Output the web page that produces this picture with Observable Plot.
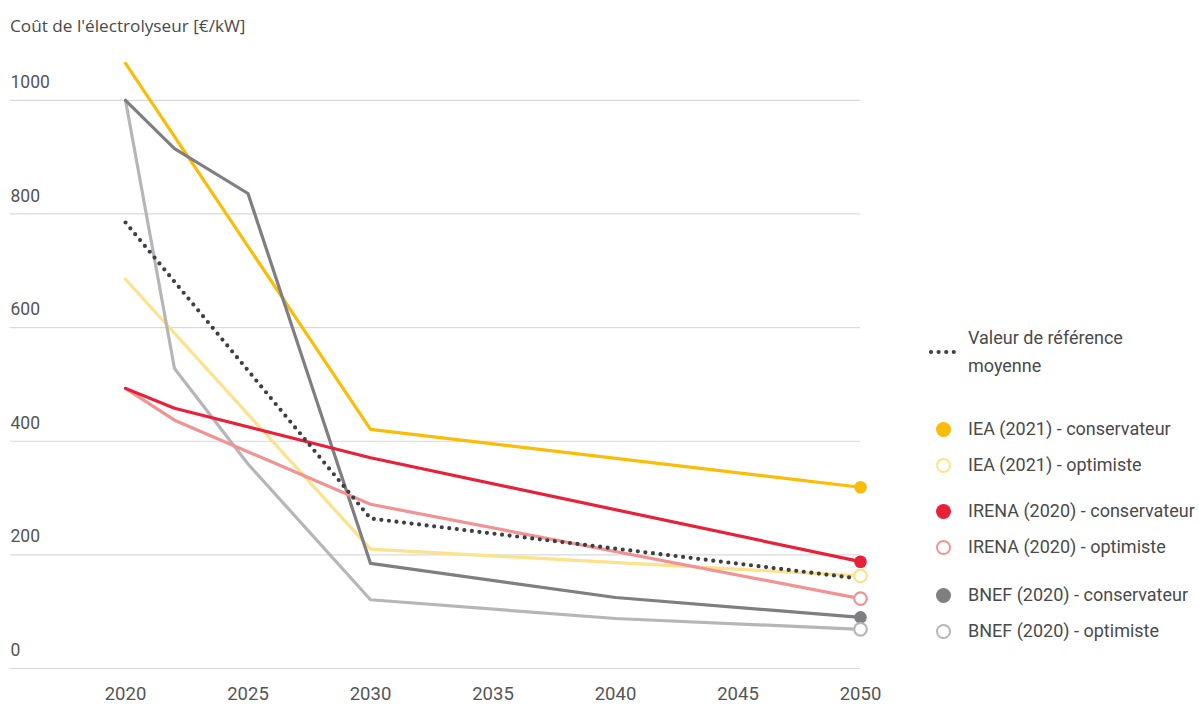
<!DOCTYPE html>
<html>
<head>
<meta charset="utf-8">
<script src="https://cdn.jsdelivr.net/npm/d3@7"></script>
<script src="https://cdn.jsdelivr.net/npm/@observablehq/plot@0.6"></script>
<style>
  html, body { margin: 0; padding: 0; background: #fff; }
  #wrap { position: relative; width: 1199px; height: 704px; }
  #title { position: absolute; left: 10px; top: 14px; font-family: "Open Sans", sans-serif; font-size: 17.2px; color: #4a4a4a; }
  #legend { position: absolute; left: 0; top: 0; font-family: Roboto, sans-serif; font-size: 18px; color: #4a4a4a; }
  .item { position: absolute; white-space: nowrap; }
  .mk { position: absolute; box-sizing: border-box; border-radius: 50%; width: 15px; height: 15px; }
</style>
</head>
<body>
<div id="wrap">
  <div id="chart"></div>
  <div id="title">Coût de l'électrolyseur [€/kW]</div>
  <div id="legend"></div>
</div>
<script>
// ---- data ----
const years = [2020, 2022, 2025, 2030, 2040, 2050];
const ieaConservateur   = [1065, null, null, 421, null, 319];
const ieaOptimiste      = [685,  null, null, 210, null, 163];
const irenaConservateur = [493,  458,  null, 371, null, 188];
const irenaOptimiste    = [493,  437,  null, 289, null, 123];
const bnefConservateur  = [1000, 915,  836,  185, 125,  90];
const bnefOptimiste     = [1000, 528,  360,  121, 88,   69];
const moyenne           = [785,  null, null, 264, 211,  158];

const seriesNames = [
  "IEA (2021) - conservateur", "IEA (2021) - optimiste",
  "IRENA (2020) - conservateur", "IRENA (2020) - optimiste",
  "BNEF (2020) - conservateur", "BNEF (2020) - optimiste"
];
const seriesColors = ["#fbbc05", "#fde18b", "#e8203a", "#f29393", "#7e7e83", "#b6b6b9"];
const seriesFilled = [true, false, true, false, true, false];
const meanName = "Valeur de référence moyenne";
const yTicks = [0, 200, 400, 600, 800, 1000];
const xTicks = [2020, 2025, 2030, 2035, 2040, 2045, 2050];

// ---- build tables ----
const seriesValues = [ieaConservateur, ieaOptimiste, irenaConservateur, irenaOptimiste, bnefConservateur, bnefOptimiste];
const rows = [];
seriesValues.forEach((vals, i) => {
  vals.forEach((v, j) => { if (v != null) rows.push({series: seriesNames[i], idx: i, year: years[j], value: v}); });
});
const meanRows = [];
moyenne.forEach((v, j) => { if (v != null) meanRows.push({year: years[j], value: v}); });
const endRows = rows.filter(d => d.year === 2050);

// draw order
const order = [1, 0, 5, 4, 3, 2];
const lineMarks = order.map(i => Plot.line(rows.filter(d => d.idx === i), {
  x: "year", y: "value", stroke: seriesColors[i], strokeWidth: 3.2, strokeLinejoin: "round", strokeLinecap: "round"
}));

const chart = Plot.plot({
  width: 1199,
  height: 704,
  marginLeft: 10,
  marginRight: 339,
  marginTop: 43,
  marginBottom: 36,
  style: { fontFamily: "Roboto, sans-serif", fontSize: "17px", color: "#555", background: "#fff" },
  x: { domain: [2015.306, 2050], ticks: xTicks },
  y: { domain: [0, 1100] },
  marks: [
    Plot.ruleY(yTicks, { stroke: "#d9d9d9", strokeWidth: 1.2 }),
    Plot.axisY(yTicks, { anchor: "left", tickSize: 0, tickPadding: 0, textAnchor: "start", dy: -18, fill: "#555", fontSize: 17.5, label: null, tickFormat: d => String(d) }),
    Plot.axisX(xTicks, { anchor: "bottom", tickSize: 0, tickPadding: 18, fill: "#555", fontSize: 18.5, label: null, tickFormat: d => String(d) }),
    ...lineMarks,
    Plot.line(meanRows, { x: "year", y: "value", stroke: "#3d3f45", strokeWidth: 4.2, strokeDasharray: "0 7.6", strokeLinecap: "round", strokeLinejoin: "round" }),
    Plot.dot(endRows, {
      x: "year", y: "value", r: 6.3,
      fill: d => seriesFilled[d.idx] ? seriesColors[d.idx] : "#fff",
      stroke: d => seriesColors[d.idx], strokeWidth: d => seriesFilled[d.idx] ? 0 : 2.2
    })
  ]
});
document.getElementById("chart").appendChild(chart);

// ---- legend ----
const legend = document.getElementById("legend");
const meanMk = document.createElementNS("http://www.w3.org/2000/svg", "svg");
meanMk.setAttribute("width", 30); meanMk.setAttribute("height", 10);
meanMk.style.position = "absolute"; meanMk.style.left = "928px"; meanMk.style.top = "347px";
meanMk.innerHTML = '<line x1="3" y1="5" x2="27" y2="5" stroke="#3d3f45" stroke-width="4.2" stroke-linecap="round" stroke-dasharray="0 7.6"/>';
legend.appendChild(meanMk);
const meanTxt = document.createElement("div");
meanTxt.className = "item";
meanTxt.style.left = "968px"; meanTxt.style.top = "324px"; meanTxt.style.lineHeight = "28px";
meanTxt.innerHTML = "Valeur de référence<br>moyenne";
legend.appendChild(meanTxt);

const legendY = [429, 465, 511, 547, 595, 631];
seriesNames.forEach((name, i) => {
  const mk = document.createElement("div");
  mk.className = "mk";
  mk.style.left = (943 - 7.5) + "px";
  mk.style.top = (legendY[i] - 7.5) + "px";
  if (seriesFilled[i]) mk.style.background = seriesColors[i];
  else { mk.style.background = "#fff"; mk.style.border = "2.2px solid " + seriesColors[i]; }
  legend.appendChild(mk);
  const t = document.createElement("div");
  t.className = "item";
  t.style.left = "968px"; t.style.top = (legendY[i] - 12) + "px"; t.style.lineHeight = "24px";
  t.textContent = name;
  legend.appendChild(t);
});
</script>
</body>
</html>
